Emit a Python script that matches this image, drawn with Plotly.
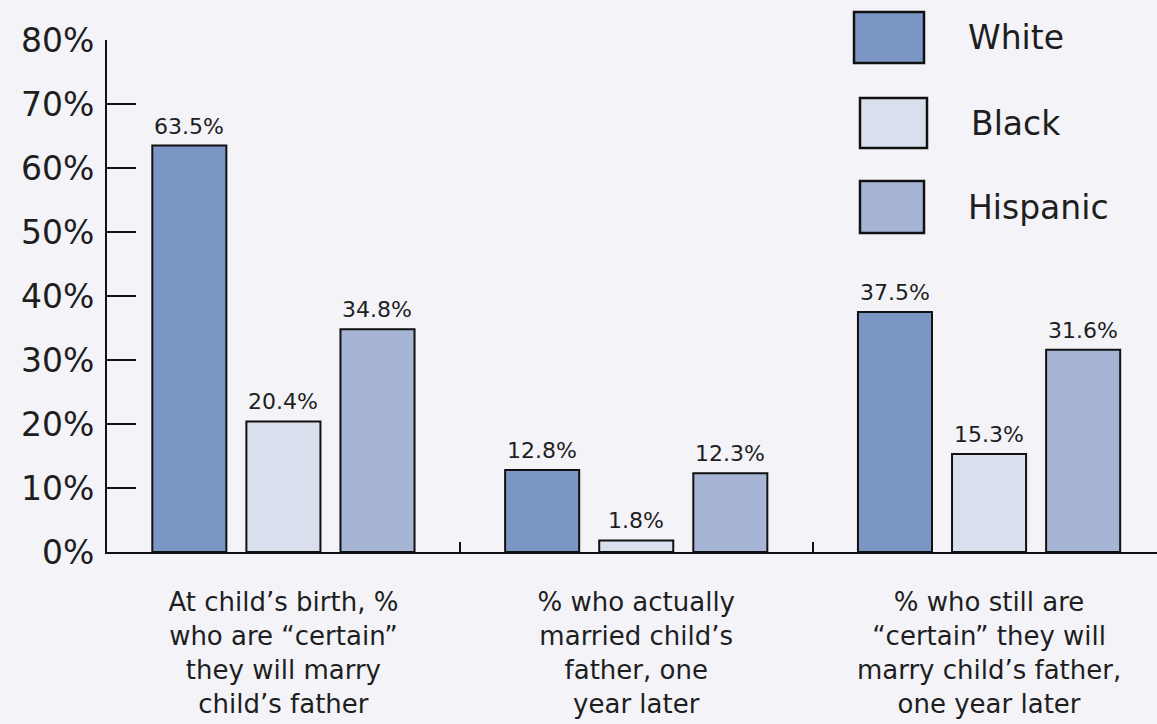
import plotly.graph_objects as go

categories = [
    "At child’s birth, %<br>who are “certain”<br>they will marry<br>child’s father",
    "% who actually<br>married child’s<br>father, one<br>year later",
    "% who still are<br>“certain” they will<br>marry child’s father,<br>one year later",
]
cat_keys = ["birth", "married", "still"]
series_names = ["White", "Black", "Hispanic"]
white = [63.5, 12.8, 37.5]
black = [20.4, 1.8, 15.3]
hispanic = [34.8, 12.3, 31.6]
series_values = [white, black, hispanic]
colors = ["#7b96c4", "#d9dfec", "#a6b4d6"]
y_ticks = [0, 10, 20, 30, 40, 50, 60, 70, 80]
y_tick_labels = [f"{v}%" for v in y_ticks]

FONT = "DejaVu Sans"
TXT = "#1e1e1e"
BG = "#f3f3f8"

W, H = 1157, 724
ML, MR, MT, MB = 107, 0, 40, 172
BARGAP, GROUPGAP = 0.2, 0.213
XRANGE = [-0.5, 2.476]

fig = go.Figure()
for name, vals, col in zip(series_names, series_values, colors):
    fig.add_trace(go.Bar(
        name=name, x=cat_keys, y=vals,
        marker=dict(color=col, line=dict(color="#111111", width=2)),
        showlegend=False, hoverinfo="skip",
    ))

# value labels above bars
plot_w = W - ML - MR
px_per_cat = plot_w / (XRANGE[1] - XRANGE[0])
slot = px_per_cat * (1 - BARGAP) / len(series_names)
annotations = []
for i, vals in enumerate(series_values):
    off = (i - (len(series_names) - 1) / 2) * slot
    for k, v in zip(cat_keys, vals):
        annotations.append(dict(
            x=k, y=v, xref="x", yref="y", text=f"{v}%", showarrow=False,
            xshift=off, yshift=5, yanchor="bottom",
            font=dict(family=FONT, size=22, color=TXT),
        ))

# custom legend
plot_h = H - MT - MB
def py(p):  # pixel y -> paper y
    return (H - MB - p) / plot_h
def pxp(p):  # pixel x -> paper x
    return (p - ML) / plot_w

legend_boxes = [(854, 924, 12, 63), (860, 927, 98, 148), (860, 924, 181, 233)]
legend_text_x = [966, 969, 966]
shapes = []
for (x0, x1, y0, y1), name, col, tx in zip(legend_boxes, series_names, colors, legend_text_x):
    shapes.append(dict(type="rect", xref="paper", yref="paper",
                       x0=pxp(x0), x1=pxp(x1), y0=py(y1), y1=py(y0),
                       fillcolor=col, line=dict(color="#111111", width=2.5)))
    annotations.append(dict(x=pxp(tx), y=py((y0 + y1) / 2), xref="paper", yref="paper",
                            text=name, showarrow=False, xanchor="left", yanchor="middle",
                            font=dict(family=FONT, size=33, color=TXT)))

fig.update_layout(
    width=W, height=H,
    margin=dict(l=ML, r=MR, t=MT, b=MB, pad=0),
    paper_bgcolor=BG, plot_bgcolor=BG,
    barmode="group", bargap=BARGAP, bargroupgap=GROUPGAP,
    annotations=annotations, shapes=shapes,
    xaxis=dict(
        type="category", range=XRANGE, tickmode="array",
        tickvals=cat_keys, ticktext=categories,
        showline=True, linecolor="#111111", linewidth=2,
        ticks="inside", tickson="boundaries", ticklen=10, tickwidth=2, tickcolor="#111111",
        tickfont=dict(family=FONT, size=26, color=TXT),
        ticklabelstandoff=26, showgrid=False, zeroline=False, fixedrange=True,
    ),
    yaxis=dict(
        range=[0, 80], tickmode="array", tickvals=y_ticks, ticktext=y_tick_labels,
        showline=True, linecolor="#111111", linewidth=2,
        ticks="inside", ticklen=29, tickwidth=2, tickcolor="#111111",
        tickfont=dict(family=FONT, size=33, color=TXT),
        ticklabelstandoff=4, showgrid=False, zeroline=False, fixedrange=True,
    ),
    font=dict(family=FONT, color=TXT),
)

fig.write_html(
    "out.html",
    config={"displayModeBar": False},
    post_script="document.body.style.margin='0';document.body.style.padding='0';"
                "document.body.style.overflow='hidden';",
)
